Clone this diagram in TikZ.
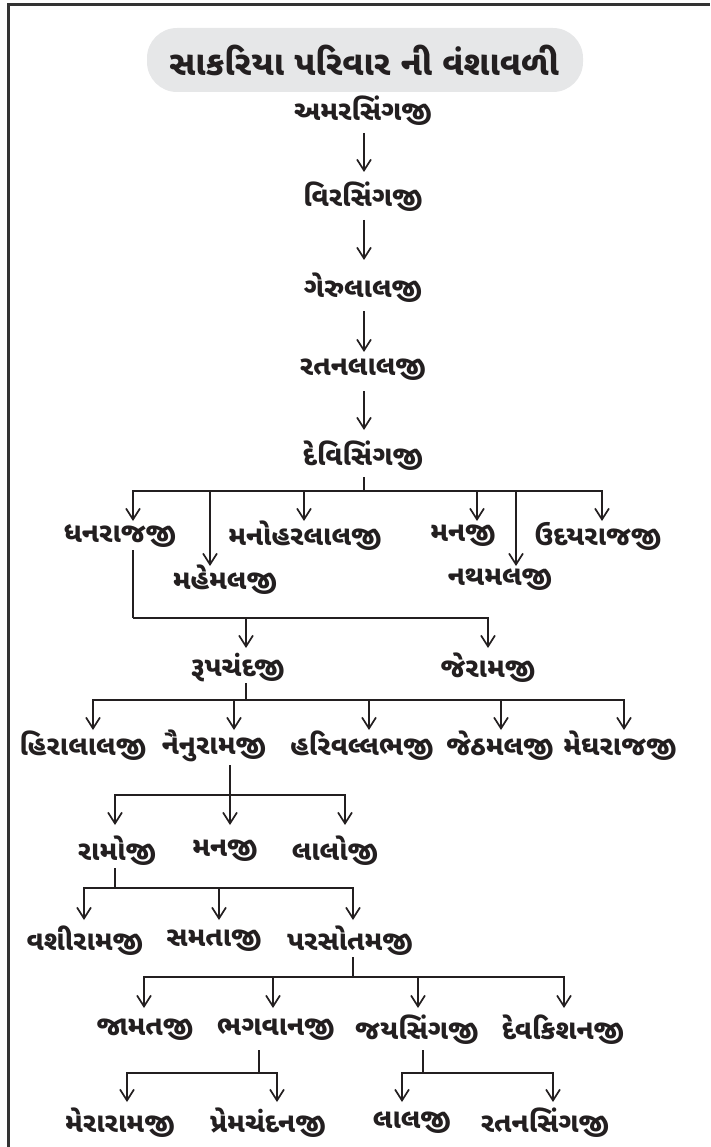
\documentclass[tikz,border=0pt]{standalone}
\usepackage{fontspec}
\newfontfamily\guj[Script=Gujarati]{Noto Sans Gujarati UI}
\usetikzlibrary{arrows.meta}
\definecolor{ink}{HTML}{231F20}
\definecolor{frame}{HTML}{333333}
\definecolor{pill}{HTML}{E6E7E8}
\begin{document}
\begin{tikzpicture}[x=1pt,y=-1pt,
  person/.style={font=\guj\bfseries\fontsize{27.5}{32}\selectfont, text=ink, inner sep=0pt, anchor=center},
  titletext/.style={font=\guj\bfseries\fontsize{34}{38}\selectfont, text=ink, inner sep=0pt},
  ln/.style={draw=ink, line width=1.8pt},
  arr/.style={ln, -{Straight Barb[length=11pt,width=14pt,line width=1.7pt]}}]
\useasboundingbox (0,0) rectangle (710,1147);
% frame
\draw[draw=frame, line width=3pt] (8,1147) -- (8,5) -- (710,5);
% title
\fill[pill, rounded corners=30pt] (147,28) rectangle (583,92);
\node[titletext] (title) at (364,60) {સાકરિયા પરિવાર ની વંશાવળી};
% chain
\node[person] (a1) at (363,111) {અમરસિંગજી};
\node[person] (a2) at (363,197) {વિરસિંગજી};
\node[person] (a3) at (363,288) {ગેરુલાલજી};
\node[person] (a4) at (363,370) {રતનલાલજી};
\node[person] (a5) at (363,456) {દેવિસિંગજી};
\draw[arr] ([xshift=1pt,yshift=-22pt]a1.center) -- ([xshift=1pt,yshift=25pt]a2.center);
\draw[arr] ([xshift=1pt,yshift=-23pt]a2.center) -- ([xshift=1pt,yshift=28pt]a3.center);
\draw[arr] ([xshift=1pt,yshift=-23pt]a3.center) -- ([xshift=1pt,yshift=18pt]a4.center);
\draw[arr] ([xshift=1pt,yshift=-21pt]a4.center) -- ([xshift=1pt,yshift=26pt]a5.center);
% children of દેવિસિંગજી
\node[person] (c1) at (120,536) {ધનરાજજી};
\node[person] (c2) at (225,580) {મહેમલજી};
\node[person] (c3) at (305,536) {મનોહરલાલજી};
\node[person] (c4) at (463,536) {મનજી};
\node[person] (c5) at (500,580) {નથમલજી};
\node[person] (c6) at (598,536) {ઉદયરાજજી};
\draw[ln] ([xshift=1pt,yshift=-21pt]a5.center) -- ++(0,14) coordinate (j5);
\draw[arr] (j5) -| ([xshift=13pt,yshift=15pt]c1.center);
\draw[arr] (j5) -| ([xshift=-15pt,yshift=14pt]c2.center);
\draw[arr] (j5) -| ([xshift=-1pt,yshift=15pt]c3.center);
\draw[arr] (j5) -| ([xshift=14pt,yshift=15pt]c4.center);
\draw[arr] (j5) -| ([xshift=16pt,yshift=14pt]c5.center);
\draw[arr] (j5) -| ([xshift=4pt,yshift=15pt]c6.center);
% children of ધનરાજજી
\node[person] (d1) at (238,668) {રૂપચંદજી};
\node[person] (d2) at (488,668) {જેરામજી};
\draw[ln] ([xshift=13pt,yshift=-14pt]c1.center) -- ++(0,68) coordinate (j1);
\draw[arr] (j1) -| ([xshift=8pt,yshift=20pt]d1.center);
\draw[arr] (j1) -| ([yshift=20pt]d2.center);
% children of રૂપચંદજી
\node[person] (e1) at (83,746) {હિરાલાલજી};
\node[person] (e2) at (214,746) {નૈનુરામજી};
\node[person] (e3) at (362,746) {હરિવલ્લભજી};
\node[person] (e4) at (500,746) {જેઠમલજી};
\node[person] (e5) at (620,746) {મેઘરાજજી};
\draw[ln] ([xshift=8pt,yshift=-15pt]d1.center) -- ++(0,17) coordinate (j2);
\draw[arr] (j2) -| ([xshift=10pt,yshift=16pt]e1.center);
\draw[arr] (j2) -| ([xshift=20pt,yshift=16pt]e2.center);
\draw[arr] (j2) -| ([xshift=7pt,yshift=16pt]e3.center);
\draw[arr] (j2) -| ([xshift=1pt,yshift=16pt]e4.center);
\draw[arr] (j2) -| ([xshift=4pt,yshift=16pt]e5.center);
% children of નૈનુરામજી
\node[person] (f1) at (117,851) {રામોજી};
\node[person] (f2) at (225,851) {મનજી};
\node[person] (f3) at (335,851) {લાલોજી};
\draw[arr] ([xshift=16pt,yshift=-19pt]e2.center) -- coordinate[pos=0.5] (j3) ([xshift=5pt,yshift=26pt]f2.center);
\draw[arr] (j3) -| ([xshift=-2pt,yshift=26pt]f1.center);
\draw[arr] (j3) -| ([xshift=10pt,yshift=26pt]f3.center);
% children of રામોજી
\node[person] (g1) at (85,941) {વશીરામજી};
\node[person] (g2) at (214,941) {સમતાજી};
\node[person] (g3) at (350,941) {પરસોતમજી};
\draw[ln] ([xshift=-2pt,yshift=-17pt]f1.center) -- ++(0,20) coordinate (j4);
\draw[arr] (j4) -| ([xshift=-1pt,yshift=21pt]g1.center);
\draw[arr] (j4) -| ([xshift=5pt,yshift=21pt]g2.center);
\draw[arr] (j4) -| ([xshift=3pt,yshift=21pt]g3.center);
% children of પરસોતમજી
\node[person] (h1) at (145,1030) {જામતજી};
\node[person] (h2) at (276,1030) {ભગવાનજી};
\node[person] (h3) at (417,1030) {જયસિંગજી};
\node[person] (h4) at (563,1030) {દેવકિશનજી};
\draw[ln] ([xshift=3pt,yshift=-16pt]g3.center) -- ++(0,20) coordinate (j6);
\draw[arr] (j6) -| ([xshift=-1pt,yshift=22pt]h1.center);
\draw[arr] (j6) -| ([xshift=-3pt,yshift=22pt]h2.center);
\draw[arr] (j6) -| ([xshift=1pt,yshift=22pt]h3.center);
\draw[arr] (j6) -| ([xshift=1pt,yshift=22pt]h4.center);
% grandchildren
\node[person] (i1) at (120,1123) {મેરારામજી};
\node[person] (i2) at (268,1123) {પ્રેમચંદનજી};
\node[person] (i3) at (412,1123) {લાલજી};
\node[person] (i4) at (545,1123) {રતનસિંગજી};
\draw[ln] ([xshift=-17pt,yshift=-20pt]h2.center) -- ++(0,23) coordinate (j7);
\draw[arr] (j7) -| ([xshift=7pt,yshift=21pt]i1.center);
\draw[arr] (j7) -| ([xshift=9pt,yshift=21pt]i2.center);
\draw[ln] ([xshift=6pt,yshift=-20pt]h3.center) -- ++(0,23) coordinate (j8);
\draw[arr] (j8) -| ([xshift=-10pt,yshift=21pt]i3.center);
\draw[arr] (j8) -| ([xshift=8pt,yshift=21pt]i4.center);
\end{tikzpicture}
\end{document}
